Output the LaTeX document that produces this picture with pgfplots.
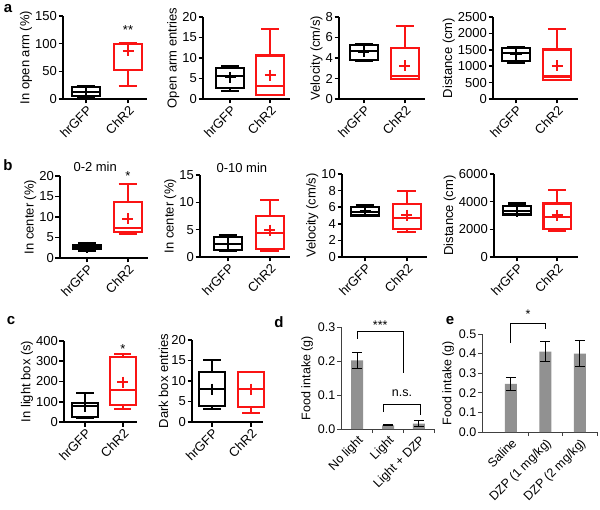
\documentclass[border=0pt]{standalone}
\usepackage{fontspec}
\setmainfont{Liberation Sans}
\usepackage{pgfplots}
\pgfplotsset{compat=1.18}
\usepgfplotslibrary{statistics}
\newcommand{\fs}{\fontsize{13}{15}\selectfont}
\newcommand{\fsb}{\fontsize{12.5}{14}\selectfont}
\definecolor{barg}{RGB}{145,145,145}
\definecolor{myred}{RGB}{250,20,20}
% box plot: color, position, lower whisker, lower quartile, median, upper quartile, upper whisker
\newcommand{\bp}[7]{\addplot[#1, line width=2.1pt, boxplot prepared={draw direction=y, draw position=#2, lower whisker=#3, lower quartile=#4, median=#5, upper quartile=#6, upper whisker=#7, box extend=0.68, whisker extend=0.45}] coordinates {};}
\newcommand{\mn}[3]{\addplot[#1, only marks, mark=+, mark size=5.5pt, line width=2pt] coordinates {(#2,#3)};}
\pgfplotsset{
  bx/.style={
    scale only axis, anchor=south west, clip=false,
    axis x line*=bottom, axis y line*=left,
    axis line style={line width=1.8pt, black},
    tick style={line width=1.6pt, black},
    tick align=outside, major tick length=4.5pt,
    ymin=0,
    xtick={1,2}, xticklabels={hrGFP,ChR2},
    tick label style={font=\fs},
    x tick label style={rotate=45, anchor=north east, inner sep=1pt},
    y tick label style={inner sep=1.5pt},
    label style={font=\fs},
    ylabel shift=-2pt,
    /pgf/number format/1000 sep={},
    /pgf/number format/assume math mode=true,
  },
  br/.style={
    scale only axis, anchor=south west, clip=false,
    axis x line*=bottom, axis y line*=left,
    axis line style={line width=0.9pt, black!75},
    tick style={line width=0.9pt, black!75},
    tick align=outside, major tick length=4pt, minor tick length=4pt,
    major x tick style={draw=none},
    ymin=0,
    xtick={1,2,3}, minor xtick={1.5,2.5,3.5},
    tick label style={font=\fsb},
    x tick label style={rotate=45, anchor=north east, inner sep=1pt},
    y tick label style={inner sep=1.5pt},
    label style={font=\fsb},
    ylabel={Food intake (g)},
  },
  errb/.style={ybar, bar width=12pt, fill=barg, draw=none,
    error bars/.cd, y dir=both, y explicit,
    error bar style={draw=black, line width=1pt},
    error mark options={rotate=90, draw=black, line width=1pt, mark size=5pt}},
}
\begin{document}
\begin{tikzpicture}
\path[use as bounding box] (0,0) rectangle (600pt,509pt);
% ---------- row a ----------
\begin{axis}[bx, at={(63pt,410pt)}, width=84pt, height=83pt, xmin=0.452, xmax=2.452, ymax=150, ytick={0,50,100,150}, ylabel={In open arm (\%)}]
\bp{black}{1}{3}{6}{12}{21}{24}
\mn{black}{1}{13}
\bp{myred}{2}{23}{53}{100}{100}{100.5}
\mn{myred}{2}{87}
\node[anchor=base, font=\fs] at (axis cs:2,116) {**};
\end{axis}
\begin{axis}[bx, at={(203pt,410pt)}, width=87pt, height=82pt, xmin=0.325, xmax=2.5, ymax=20, ytick={0,5,10,15,20}, ylabel={Open arm entries}]
\bp{black}{1}{2}{2.7}{5.6}{7.6}{8.1}
\mn{black}{1}{5.3}
\bp{myred}{2}{1}{1}{3.2}{10.6}{17.1}
\mn{myred}{2}{5.8}
\end{axis}
\begin{axis}[bx, at={(339pt,410pt)}, width=86pt, height=82pt, xmin=0.39, xmax=2.49, ymax=8, ytick={0,2,4,6,8}, ylabel={Velocity (cm/s)}]
\bp{black}{1}{3.67}{3.84}{4.65}{5.24}{5.37}
\mn{black}{1}{4.6}
\bp{myred}{2}{1.95}{1.95}{2.28}{4.98}{7.15}
\mn{myred}{2}{3.25}
\end{axis}
\begin{axis}[bx, at={(493pt,410pt)}, width=85pt, height=82pt, xmin=0.44, xmax=2.51, ymax=2500, ytick={0,500,1000,1500,2000,2500}, ylabel={Distance (cm)}]
\bp{black}{1}{1110}{1160}{1390}{1560}{1590}
\mn{black}{1}{1370}
\bp{myred}{2}{585}{585}{685}{1510}{2140}
\mn{myred}{2}{1020}
\end{axis}
% ---------- row b ----------
\begin{axis}[bx, at={(60pt,251pt)}, width=88pt, height=82pt, xmin=0.34, xmax=2.49, ymax=20, ytick={0,5,10,15,20}, ylabel={In center (\%)}]
\bp{black}{1}{1.6}{2.1}{2.6}{3.2}{3.6}
\mn{black}{1}{2.6}
\bp{myred}{2}{5.9}{6.45}{7.35}{13.6}{18.0}
\mn{myred}{2}{9.55}
\node[anchor=base, font=\fs] at (axis cs:2,19) {*};
\node[anchor=base, font=\fs] at (axis cs:1.2,21.1) {0-2 min};
\end{axis}
\begin{axis}[bx, at={(200pt,252pt)}, width=90pt, height=82pt, xmin=0.33, xmax=2.48, ymax=15, ytick={0,5,10,15}, ylabel={In center (\%)}]
\bp{black}{1}{1.04}{1.22}{2.45}{3.67}{4.0}
\mn{black}{1}{2.4}
\bp{myred}{2}{1.04}{1.47}{4.47}{7.53}{10.4}
\mn{myred}{2}{4.9}
\node[anchor=base, font=\fs] at (axis cs:1.33,15.4) {0-10 min};
\end{axis}
\begin{axis}[bx, at={(342pt,252pt)}, width=85pt, height=83pt, xmin=0.45, xmax=2.48, ymax=10, ytick={0,2,4,6,8,10}, ylabel={Velocity (cm/s)}]
\bp{black}{1}{5.0}{5.0}{5.44}{6.05}{6.25}
\mn{black}{1}{5.5}
\bp{myred}{2}{3.06}{3.39}{4.72}{6.37}{7.94}
\mn{myred}{2}{5.04}
\end{axis}
\begin{axis}[bx, at={(494pt,252pt)}, width=84pt, height=83pt, xmin=0.425, xmax=2.52, ymax=6000, ytick={0,2000,4000,6000}, ylabel={Distance (cm)}]
\bp{black}{1}{3020}{3070}{3315}{3700}{3870}
\mn{black}{1}{3300}
\bp{myred}{2}{1890}{2030}{2900}{3870}{4840}
\mn{myred}{2}{3000}
\end{axis}
% ---------- row c ----------
\begin{axis}[bx, at={(64pt,87pt)}, width=73pt, height=81pt, xmin=0.447, xmax=2.37, ymax=400, ytick={0,100,200,300,400}, ylabel={In light box (s)}]
\bp{black}{1}{20}{25}{79}{94}{145}
\mn{black}{1}{78}
\bp{myred}{2}{66}{83}{160}{319}{334}
\mn{myred}{2}{197}
\node[anchor=base, font=\fs] at (axis cs:2,336) {*};
\end{axis}
\begin{axis}[bx, at={(192pt,87pt)}, width=71pt, height=82pt, xmin=0.49, xmax=2.31, ymax=20, ytick={0,5,10,15,20}, ylabel={Dark box entries}]
\bp{black}{1}{3.2}{4.0}{8.1}{12.1}{15.1}
\mn{black}{1}{8}
\bp{myred}{2}{2.2}{3.6}{8.1}{12.1}{12.1}
\mn{myred}{2}{8}
\end{axis}
% ---------- d ----------
\begin{axis}[br, at={(341pt,80pt)}, width=94pt, height=102pt, xmin=0.48, xmax=3.52, ymax=0.3, ytick={0,0.1,0.2,0.3}, yticklabels={0.0,0.1,0.2,0.3}, xticklabels={No light,Light,Light + DZP}]
\addplot[errb] coordinates {(1,0.202) +- (0,0.024) (2,0.011) +- (0,0.001) (3,0.016) +- (0,0.009)};
\draw[black, line width=1pt] (axis cs:1,0.265) -- (axis cs:1,0.288) -- (axis cs:2.5,0.288) -- (axis cs:2.5,0.165);
\node[anchor=base, font=\fsb] at (axis cs:1.75,0.294) {***};
\draw[black, line width=1pt] (axis cs:1.85,0.05) -- (axis cs:1.85,0.0735) -- (axis cs:3.05,0.0735) -- (axis cs:3.05,0.041);
\node[anchor=base, font=\fsb] at (axis cs:2.45,0.097) {n.s.};
\end{axis}
% ---------- e ----------
\begin{axis}[br, at={(482pt,77pt)}, width=115pt, height=98pt, xmin=0.16, xmax=3.5, ymax=0.5, ytick={0,0.1,0.2,0.3,0.4,0.5}, yticklabels={0.0,0.1,0.2,0.3,0.4,0.5}, xticklabels={Saline,DZP (1 mg/kg),DZP (2 mg/kg)}]
\addplot[errb] coordinates {(1,0.245) +- (0,0.033) (2,0.41) +- (0,0.05) (3,0.40) +- (0,0.067)};
\draw[black, line width=1pt] (axis cs:1,0.454) -- (axis cs:1,0.556) -- (axis cs:2,0.556) -- (axis cs:2,0.525);
\node[anchor=base, font=\fsb] at (axis cs:1.5,0.577) {*};
\end{axis}
% ---------- panel letters ----------
\node[font=\fontsize{15}{15}\selectfont\bfseries, inner sep=0] at (8pt,500pt) {a};
\node[font=\fontsize{15}{15}\selectfont\bfseries, inner sep=0] at (8pt,344pt) {b};
\node[font=\fontsize{15}{15}\selectfont\bfseries, inner sep=0] at (11pt,188pt) {c};
\node[font=\fontsize{15}{15}\selectfont\bfseries, inner sep=0] at (279pt,187pt) {d};
\node[font=\fontsize{15}{15}\selectfont\bfseries, inner sep=0] at (450pt,188pt) {e};
\end{tikzpicture}
\end{document}
